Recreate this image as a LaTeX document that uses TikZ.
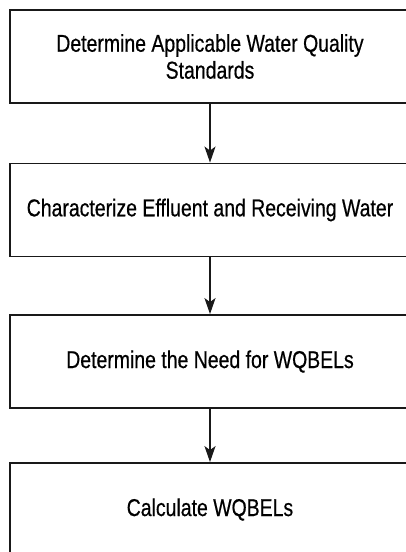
\documentclass[tikz,border=0pt]{standalone}
\usepackage{fontspec}
\setmainfont[FakeStretch=0.8,FakeBold=0.5]{Liberation Sans}
\usetikzlibrary{arrows.meta,positioning}

\tikzset{
  stepbox/.style={draw=black!90, line width=1.8bp, minimum width=400bp,
    minimum height=93bp, inner sep=0pt, align=center,
    font=\fontsize{24.4}{27}\selectfont},
  flowarrow/.style={draw=black!90, line width=1.9bp,
    -{Stealth[length=16bp,width=11bp,inset=4bp]}}
}

\begin{document}
\begin{tikzpicture}[x=1bp,y=-1bp]
        \useasboundingbox (0,0) rectangle (405,552);
        \fill[white] (0,0) rectangle (405,552);
        \node[stepbox] (standards) at (210,56.5)
          {Determine Applicable Water Quality\\Standards};
        \node[stepbox] (characterize) at (210,210)
          {Characterize Effluent and Receiving Water};
        \node[stepbox] (need) at (210,361.5)
          {Determine the Need for WQBELs};
        \node[stepbox] (calculate) at (210,509.5)
          {Calculate WQBELs};
        \draw[flowarrow] (standards) -- (characterize);
        \draw[flowarrow] (characterize) -- (need);
        \draw[flowarrow] (need) -- (calculate);
      \end{tikzpicture}
\end{document}
